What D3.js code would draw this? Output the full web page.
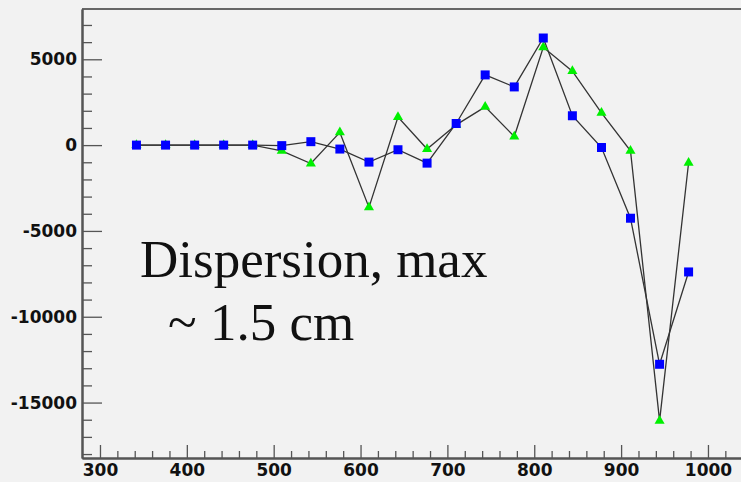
<!DOCTYPE html>
<html>
<head>
<meta charset="utf-8">
<script src="https://cdn.jsdelivr.net/npm/d3@7"></script>
<style>
  body { margin: 0; background: #f2f2f2; }
  svg { display: block; }
  .axis text { font-family: "DejaVu Sans", sans-serif; font-weight: bold; font-size: 17px; fill: #111; }
  .axis line { stroke: #555; stroke-width: 1.3; }
  .axis path { stroke: #555; stroke-width: 2; }
  .note { font-family: "Liberation Serif", "Times New Roman", serif; font-size: 53px; fill: #111; }
</style>
</head>
<body>
<div id="chart"></div>
<script>
// bin centres
const xValues = [342, 375.5, 409, 442.4, 475.8, 509.3, 542.8, 576.2, 609.7, 643.1,
                 676.6, 710.1, 743.5, 777, 810.4, 843.9, 877.4, 910.8, 944.3, 977.7];
// blue squares
const squareValues = [0, 0, 0, 0, 0, -30, 200, -230, -990, -270,
                      -1050, 1260, 4090, 3390, 6240, 1710, -140, -4260, -12770, -7390];
// green triangles
const triangleValues = [0, 0, 0, 0, 0, -340, -1070, 740, -3630, 1630,
                        -230, 1180, 2230, 500, 5700, 4310, 1880, -330, -16070, -1030];
const xMajorTicks = [300, 400, 500, 600, 700, 800, 900, 1000];
const yMajorTicks = [-15000, -10000, -5000, 0, 5000];
const noteLines = ["Dispersion, max", "~ 1.5 cm"];

const W = 741, H = 482;
const margin = {top: 9, left: 82, bottom: 24};

const svg = d3.select("#chart").append("svg")
    .attr("width", W)
    .attr("height", H);

svg.append("rect").attr("width", W).attr("height", H).attr("fill", "#f2f2f2");

const x = d3.scaleLinear()
    .domain([279.3, 1040])
    .range([margin.left, 742.7]);

const y = d3.scaleLinear()
    .domain([-18230, 7930])
    .range([H - margin.bottom, margin.top]);

const xMinor = d3.range(300, 1040, 20).filter(v => v % 100 !== 0);
const yMinor = d3.range(-18000, 8000, 1000).filter(v => v % 5000 !== 0);

// top frame line
svg.append("line")
    .attr("x1", margin.left).attr("x2", W)
    .attr("y1", margin.top).attr("y2", margin.top)
    .attr("stroke", "#666").attr("stroke-width", 2);

const fmt = d => String(d);

// x axis
svg.append("g")
    .attr("class", "axis")
    .attr("transform", `translate(0,${H - margin.bottom})`)
    .call(d3.axisBottom(x).tickValues(xMinor).tickSize(-7).tickSizeOuter(0).tickFormat(""));
svg.append("g")
    .attr("class", "axis")
    .attr("transform", `translate(0,${H - margin.bottom})`)
    .call(d3.axisBottom(x).tickValues(xMajorTicks).tickSize(-13).tickSizeOuter(0).tickPadding(6).tickFormat(fmt));

// y axis
svg.append("g")
    .attr("class", "axis")
    .attr("transform", `translate(${margin.left},0)`)
    .call(d3.axisLeft(y).tickValues(yMinor).tickSize(-10).tickSizeOuter(0).tickFormat(""));
svg.append("g")
    .attr("class", "axis")
    .attr("transform", `translate(${margin.left},0)`)
    .call(d3.axisLeft(y).tickValues(yMajorTicks).tickSize(-20).tickSizeOuter(0).tickPadding(5).tickFormat(fmt));

const line = d3.line()
    .x(d => x(d[0]))
    .y(d => y(d[1]));

const triData = xValues.map((v, i) => [v, triangleValues[i]]);
const sqData = xValues.map((v, i) => [v, squareValues[i]]);

svg.append("path").datum(triData)
    .attr("d", line).attr("fill", "none").attr("stroke", "#333").attr("stroke-width", 1.3);
svg.append("path").datum(sqData)
    .attr("d", line).attr("fill", "none").attr("stroke", "#333").attr("stroke-width", 1.3);

svg.selectAll(".tri").data(triData).enter().append("path")
    .attr("class", "tri")
    .attr("d", d3.symbol(d3.symbolTriangle, 44))
    .attr("transform", d => `translate(${x(d[0])},${y(d[1])})`)
    .attr("fill", "#00f000");

svg.selectAll(".sq").data(sqData).enter().append("path")
    .attr("class", "sq")
    .attr("d", d3.symbol(d3.symbolSquare, 81))
    .attr("transform", d => `translate(${x(d[0])},${y(d[1])})`)
    .attr("fill", "#0000ff");

svg.append("text").attr("class", "note")
    .attr("x", 140).attr("y", 277)
    .text(noteLines[0]);
svg.append("text").attr("class", "note")
    .attr("x", 168).attr("y", 340)
    .text(noteLines[1]);
</script>
</body>
</html>
